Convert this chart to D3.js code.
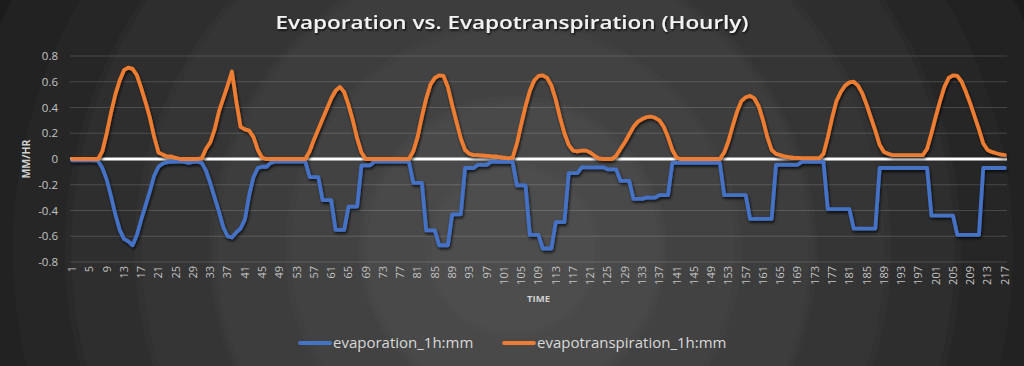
<!DOCTYPE html>
<html><head><meta charset="utf-8">
<script src="https://cdn.jsdelivr.net/npm/d3@7"></script>
<style>html,body{margin:0;padding:0;background:#1f1f1f;overflow:hidden}svg{display:block}</style>
</head><body>
<svg id="chart" width="1024" height="366"></svg>
<script>
const categories = d3.range(1, 218);
const xTickLabels = categories.filter(c => (c - 1) % 4 === 0);
const yTicks = [0.8, 0.6, 0.4, 0.2, 0, -0.2, -0.4, -0.6, -0.8];
const seriesNames = ["evaporation_1h:mm", "evapotranspiration_1h:mm"];
const seriesColors = ["#4472C4", "#ED7D31"];
const titleText = "Evaporation vs. Evapotranspiration (Hourly)";
const xAxisTitle = "TIME";
const yAxisTitle = "MM/HR";

const evaporation = [
 -0.01,-0.01,-0.01,-0.01,-0.01,-0.01,-0.015,-0.07,-0.16,-0.29,
 -0.43,-0.55,-0.62,-0.64,-0.67,-0.59,-0.47,-0.36,-0.25,-0.13,
 -0.06,-0.035,-0.025,-0.022,-0.02,-0.018,-0.022,-0.03,-0.022,-0.02,
 -0.03,-0.09,-0.19,-0.30,-0.41,-0.53,-0.60,-0.61,-0.57,-0.54,
 -0.47,-0.28,-0.14,-0.07,-0.06,-0.06,-0.03,-0.02,-0.02,-0.02,
 -0.02,-0.02,-0.02,-0.02,-0.02,-0.14,-0.14,-0.14,-0.32,-0.32,
 -0.32,-0.55,-0.55,-0.55,-0.37,-0.37,-0.37,-0.05,-0.05,-0.05,
 -0.02,-0.02,-0.02,-0.02,-0.02,-0.02,-0.02,-0.02,-0.02,-0.185,
 -0.185,-0.185,-0.555,-0.555,-0.555,-0.67,-0.67,-0.67,-0.43,-0.43,
 -0.43,-0.07,-0.07,-0.07,-0.045,-0.045,-0.045,-0.023,-0.023,-0.023,
 -0.023,-0.023,-0.023,-0.205,-0.205,-0.205,-0.59,-0.59,-0.59,-0.695,
 -0.695,-0.695,-0.49,-0.49,-0.49,-0.11,-0.11,-0.11,-0.065,-0.065,
 -0.065,-0.065,-0.065,-0.065,-0.08,-0.08,-0.08,-0.17,-0.17,-0.17,
 -0.31,-0.31,-0.31,-0.30,-0.30,-0.30,-0.28,-0.28,-0.28,-0.03,
 -0.03,-0.03,-0.03,-0.03,-0.03,-0.03,-0.03,-0.03,-0.03,-0.03,
 -0.03,-0.28,-0.28,-0.28,-0.28,-0.28,-0.28,-0.465,-0.465,-0.465,
 -0.465,-0.465,-0.465,-0.045,-0.045,-0.045,-0.045,-0.045,-0.045,-0.022,
 -0.022,-0.022,-0.022,-0.022,-0.022,-0.39,-0.39,-0.39,-0.39,-0.39,
 -0.39,-0.54,-0.54,-0.54,-0.54,-0.54,-0.54,-0.07,-0.07,-0.07,
 -0.07,-0.07,-0.07,-0.07,-0.07,-0.07,-0.07,-0.07,-0.07,-0.44,
 -0.44,-0.44,-0.44,-0.44,-0.44,-0.59,-0.59,-0.59,-0.59,-0.59,
 -0.59,-0.07,-0.07,-0.07,-0.07,-0.07,-0.07
];

const evapotranspiration = [
 0,0,0,0,0,0,0,0.06,0.20,0.36,
 0.50,0.61,0.69,0.71,0.70,0.65,0.55,0.44,0.32,0.17,
 0.05,0.034,0.02,0.02,0.008,0,0,0,0,0,
 0.005,0.08,0.13,0.23,0.37,0.47,0.57,0.68,0.45,0.25,
 0.23,0.22,0.17,0.07,0.01,0,0,0,0,0,
 0,0,0,0,0,0.06,0.15,0.23,0.31,0.39,
 0.47,0.53,0.56,0.52,0.42,0.30,0.16,0.05,0,0,
 0,0,0,0,0,0,0,0,0,0.06,
 0.17,0.33,0.47,0.58,0.63,0.65,0.645,0.56,0.42,0.29,
 0.16,0.07,0.04,0.03,0.03,0.028,0.025,0.022,0.02,0.015,
 0.01,0.005,0.01,0.12,0.27,0.41,0.53,0.61,0.645,0.65,
 0.63,0.57,0.46,0.32,0.20,0.11,0.065,0.06,0.065,0.065,
 0.05,0.025,0.005,0,0,0,0.025,0.08,0.13,0.19,
 0.25,0.29,0.31,0.325,0.33,0.32,0.30,0.25,0.17,0.07,
 0.01,0,0,0,0,0,0,0,0,0,
 0,0.05,0.14,0.26,0.37,0.45,0.48,0.49,0.47,0.41,
 0.30,0.17,0.07,0.04,0.03,0.02,0.015,0.01,0.008,0.006,
 0.006,0.006,0.006,0.006,0.04,0.17,0.32,0.45,0.52,0.57,
 0.595,0.60,0.57,0.51,0.42,0.32,0.22,0.11,0.055,0.04,
 0.03,0.03,0.03,0.03,0.03,0.03,0.03,0.03,0.08,0.20,
 0.33,0.45,0.56,0.63,0.65,0.645,0.60,0.52,0.43,0.33,
 0.23,0.12,0.07,0.055,0.045,0.035,0.03
];

const W = 1024, H = 366;
const svg = d3.select("#chart");
const defs = svg.append("defs");

defs.append("filter").attr("id", "bgblur").attr("x", "-10%").attr("y", "-10%").attr("width", "120%").attr("height", "120%")
  .append("feGaussianBlur").attr("stdDeviation", 5);
const ls = defs.append("filter").attr("id", "lshadow").attr("x", "-5%").attr("y", "-20%").attr("width", "110%").attr("height", "140%");
ls.append("feDropShadow").attr("dx", 1).attr("dy", 2).attr("stdDeviation", 1.4)
  .attr("flood-color", "#000").attr("flood-opacity", 0.75);
const ts = defs.append("filter").attr("id", "tshadow").attr("x", "-5%").attr("y", "-30%").attr("width", "110%").attr("height", "160%");
ts.append("feDropShadow").attr("dx", 1).attr("dy", 1.5).attr("stdDeviation", 1.2)
  .attr("flood-color", "#000").attr("flood-opacity", 0.8);

// background bands
const bg = svg.append("g");
bg.append("rect").attr("width", W).attr("height", H).attr("fill", "#1f1f1f");
const bands = [
  [700, "#1f1f1f"], [560, "#232323"], [500, "#282828"], [445, "#2e2e2e"],
  [375, "#353535"], [300, "#3c3c3c"], [225, "#434343"], [150, "#494949"], [85, "#4e4e4e"]
];
const bgc = bg.append("g").attr("filter", "url(#bgblur)");
bands.forEach(([r, c]) => bgc.append("circle").attr("cx", 513).attr("cy", 250).attr("r", r).attr("fill", c));

const plotL = 70, plotR = 1007, plotT = 56, plotB = 262;
const x = d3.scaleBand().domain(categories).range([plotL, plotR]);
const bw = x.bandwidth();
const y = d3.scaleLinear().domain([-0.8, 0.8]).range([plotB, plotT]);

// gridlines
svg.append("g").selectAll("line").data(yTicks).join("line")
  .attr("x1", plotL).attr("x2", plotR)
  .attr("y1", d => y(d)).attr("y2", d => y(d))
  .attr("stroke", "#ffffff").attr("stroke-opacity", 0.16).attr("stroke-width", 1);

// zero axis line
svg.append("line").attr("x1", plotL).attr("x2", plotR).attr("y1", y(0)).attr("y2", y(0))
  .attr("stroke", "#ffffff").attr("stroke-width", 3);

// y axis labels
const yAxis = d3.axisLeft(y).tickValues(yTicks).tickSize(0).tickPadding(0)
  .tickFormat(d => d === 0 ? "0" : d.toFixed(1));
const yg = svg.append("g").attr("transform", `translate(${plotL - 12},0)`).call(yAxis);
yg.select(".domain").remove();
yg.selectAll("text").attr("fill", "#c4c4c4").attr("font-family", "Open Sans").attr("font-size", 11.5);

// x axis labels
const xAxis = d3.axisBottom(x).tickValues(xTickLabels).tickSize(0).tickPadding(0);
const xg = svg.append("g").attr("transform", `translate(0,${plotB})`).call(xAxis);
xg.select(".domain").remove();
xg.selectAll("text")
  .attr("fill", "#c4c4c4").attr("font-family", "Open Sans").attr("font-size", 11)
  .attr("text-anchor", "end").attr("y", 0).attr("dy", "0.35em")
  .attr("transform", "translate(0,4) rotate(-90)");

// series
const line = d3.line().x((d, i) => x(categories[i]) + bw / 2).y(d => y(d)).curve(d3.curveLinear);
const sg = svg.append("g").attr("filter", "url(#lshadow)");
[evaporation, evapotranspiration].forEach((s, k) => {
  sg.append("path").datum(s).attr("d", line).attr("fill", "none")
    .attr("stroke", seriesColors[k]).attr("stroke-width", 3.8)
    .attr("stroke-linejoin", "round").attr("stroke-linecap", "round");
});

// titles
svg.append("text").attr("x", 512).attr("y", 29).attr("text-anchor", "middle")
  .attr("font-family", "Open Sans").attr("font-weight", 600).attr("font-size", 18)
  .attr("fill", "#f2f2f2").attr("filter", "url(#tshadow)")
  .attr("textLength", 473).attr("lengthAdjust", "spacingAndGlyphs").text(titleText);

svg.append("text").attr("x", (plotL + plotR) / 2).attr("y", 302).attr("text-anchor", "middle")
  .attr("font-family", "Open Sans").attr("font-weight", 700).attr("font-size", 9.5)
  .attr("fill", "#d0d0d0").text(xAxisTitle);

svg.append("text").attr("transform", `translate(30,${(plotT + plotB) / 2}) rotate(-90)`)
  .attr("text-anchor", "middle").attr("font-family", "Open Sans").attr("font-weight", 700)
  .attr("font-size", 10.5).attr("fill", "#d0d0d0").text(yAxisTitle);

// legend
const legendItems = [{ x: 300, tx: 333 }, { x: 504, tx: 537 }];
legendItems.forEach((it, k) => {
  svg.append("line").attr("x1", it.x).attr("x2", it.x + 30).attr("y1", 343).attr("y2", 343)
    .attr("stroke", seriesColors[k]).attr("stroke-width", 3.8).attr("stroke-linecap", "round");
  svg.append("text").attr("x", it.tx).attr("y", 348).attr("font-family", "Open Sans")
    .attr("font-size", 15).attr("fill", "#d9d9d9").text(seriesNames[k]);
});
</script>
</body></html>
